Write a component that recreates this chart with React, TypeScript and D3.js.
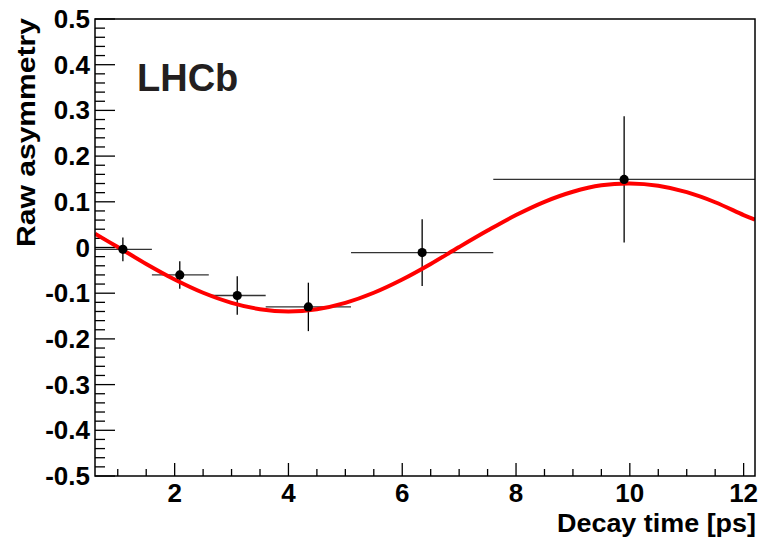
import React from "react";
import * as d3 from "d3";

const timeCenters = [1.09, 2.09, 3.1, 4.35, 6.35, 9.9];
const binLow = [0.6, 1.6, 2.6, 3.6, 5.1, 7.6];
const binHigh = [1.6, 2.6, 3.6, 5.1, 7.6, 12.2];
const asymmetry = [-0.004, -0.06, -0.105, -0.13, -0.011, 0.149];
const asymmetryErr = [0.026, 0.03, 0.042, 0.053, 0.073, 0.138];

const fitTime = [0.6, 1, 1.5, 2, 2.5, 3, 3.5, 4, 4.5, 5, 5.5, 6, 6.5, 7, 7.5, 8, 8.5, 9, 9.5, 10, 10.5, 11, 11.5, 12, 12.2];
const fitValue = [0.03, 0.001, -0.036, -0.07, -0.099, -0.121, -0.135, -0.14, -0.135, -0.121, -0.099, -0.07, -0.036, 0.001, 0.037, 0.071, 0.1, 0.122, 0.136, 0.14, 0.135, 0.121, 0.099, 0.071, 0.061];

const xMajorTicks = [2, 4, 6, 8, 10, 12];
const yMajorTicks = [-0.5, -0.4, -0.3, -0.2, -0.1, 0, 0.1, 0.2, 0.3, 0.4, 0.5];
const yTickLabels = ["-0.5", "-0.4", "-0.3", "-0.2", "-0.1", "0", "0.1", "0.2", "0.3", "0.4", "0.5"];

const W = 767;
const H = 541;
const L = 95, T = 19, R = 755, B = 476;
const FONT = "'Liberation Sans', Arial, Helvetica, sans-serif";

export default function App() {
  const x = d3.scaleLinear().domain([0.6, 12.2]).range([L, R]);
  const y = d3.scaleLinear().domain([-0.5, 0.5]).range([B, T]);

  const xMinor = d3.range(1, 12.01, 0.5).filter((v) => Math.abs(v / 2 - Math.round(v / 2)) > 1e-6);
  const yMinor = d3.range(-0.5, 0.5001, 0.02).filter((v) => Math.abs(v * 10 - Math.round(v * 10)) > 1e-6);

  const line = d3
    .line<number>()
    .x((_, i) => x(fitTime[i]))
    .y((v) => y(v))
    .curve(d3.curveCatmullRom.alpha(0.5));

  return (
    <svg
      width={W}
      height={H}
      style={{ position: "absolute", left: 0, top: 0, background: "#fff" }}
      fontFamily={FONT}
    >
      <rect x={0} y={0} width={W} height={H} fill="#fff" />
      <defs>
        <clipPath id="plotclip">
          <rect x={L} y={T} width={R - L} height={B - T} />
        </clipPath>
      </defs>

      {/* y ticks */}
      {yMajorTicks.map((v) => (
        <line key={"ym" + v} x1={L} x2={L + 20} y1={y(v)} y2={y(v)} stroke="#000" strokeWidth={1.3} />
      ))}
      {yMinor.map((v) => (
        <line key={"yn" + v} x1={L} x2={L + 10} y1={y(v)} y2={y(v)} stroke="#000" strokeWidth={1.3} />
      ))}
      {/* x ticks */}
      {xMajorTicks.map((v) => (
        <line key={"xm" + v} x1={x(v)} x2={x(v)} y1={B} y2={B - 13} stroke="#000" strokeWidth={1.3} />
      ))}
      {xMinor.map((v) => (
        <line key={"xn" + v} x1={x(v)} x2={x(v)} y1={B} y2={B - 7} stroke="#000" strokeWidth={1.3} />
      ))}

      {/* tick labels */}
      {yMajorTicks.map((v, i) => (
        <text key={"yl" + v} x={90} y={y(v) + 9} textAnchor="end" fontSize={26} fontWeight="bold" fill="#000">
          {yTickLabels[i]}
        </text>
      ))}
      {xMajorTicks.map((v) => (
        <text key={"xl" + v} x={x(v)} y={502} textAnchor="middle" fontSize={26} fontWeight="bold" fill="#000">
          {v}
        </text>
      ))}

      {/* axis titles */}
      <text x={557} y={532} fontSize={25} fontWeight="bold" fill="#000" textLength={199} lengthAdjust="spacingAndGlyphs">
        Decay time [ps]
      </text>
      <text
        transform={`translate(35,247) rotate(-90)`}
        fontSize={25}
        fontWeight="bold"
        fill="#000"
        textLength={229}
        lengthAdjust="spacingAndGlyphs"
      >
        Raw asymmetry
      </text>

      {/* LHCb */}
      <text x={137} y={91} fontSize={38} fontWeight="bold" fill="#231f20">
        LHCb
      </text>

      <g clipPath="url(#plotclip)">
        {/* error bars */}
        {timeCenters.map((t, i) => (
          <g key={"pt" + i}>
            <line x1={x(binLow[i])} x2={x(binHigh[i])} y1={y(asymmetry[i])} y2={y(asymmetry[i])} stroke="#333" strokeWidth={1.3} />
            <line
              x1={x(t)}
              x2={x(t)}
              y1={y(asymmetry[i] - asymmetryErr[i])}
              y2={y(asymmetry[i] + asymmetryErr[i])}
              stroke="#000"
              strokeWidth={1.3}
            />
          </g>
        ))}
        {/* fit curve */}
        <path d={line(fitValue) || ""} fill="none" stroke="#ff0000" strokeWidth={4} />
        {timeCenters.map((t, i) => (
          <circle key={"c" + i} cx={x(t)} cy={y(asymmetry[i])} r={4.6} fill="#000" />
        ))}
      </g>

      {/* frame */}
      <rect x={L} y={T} width={R - L} height={B - T} fill="none" stroke="#000" strokeWidth={1.5} />
    </svg>
  );
}
